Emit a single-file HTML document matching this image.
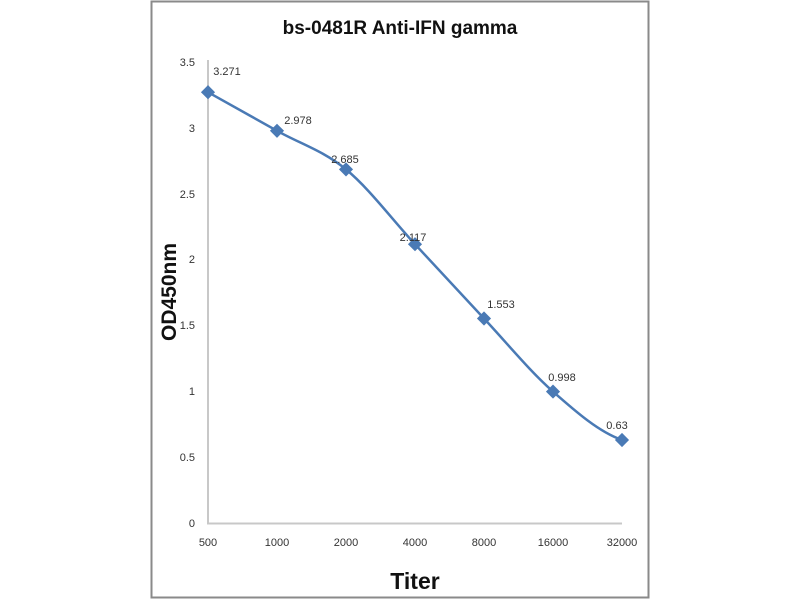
<!DOCTYPE html>
<html><head><meta charset="utf-8"><style>
html,body{margin:0;padding:0;background:#fff;}
svg{display:block;}
</style></head><body>
<svg width="800" height="600" viewBox="0 0 800 600" xmlns="http://www.w3.org/2000/svg" font-family="Liberation Sans, sans-serif">
<rect x="0" y="0" width="800" height="600" fill="#fff"/>
<rect x="151.5" y="1.5" width="497" height="596" fill="none" stroke="#8a8a8a" stroke-width="2"/>
<text x="400" y="34" text-anchor="middle" font-size="19" font-weight="bold" fill="#111">bs-0481R  Anti-IFN gamma</text>
<line x1="208" y1="60" x2="208" y2="524" stroke="#c8c8c8" stroke-width="2"/>
<line x1="207" y1="523.5" x2="622" y2="523.5" stroke="#c8c8c8" stroke-width="2"/>
<g font-size="11" fill="#333" text-anchor="end">
<text x="195" y="66">3.5</text>
<text x="195" y="132">3</text>
<text x="195" y="198">2.5</text>
<text x="195" y="263">2</text>
<text x="195" y="329">1.5</text>
<text x="195" y="395">1</text>
<text x="195" y="461">0.5</text>
<text x="195" y="527">0</text>
</g>
<g font-size="11" fill="#333" text-anchor="middle">
<text x="208" y="546">500</text>
<text x="277" y="546">1000</text>
<text x="346" y="546">2000</text>
<text x="415" y="546">4000</text>
<text x="484" y="546">8000</text>
<text x="553" y="546">16000</text>
<text x="622" y="546">32000</text>
</g>
<text x="415" y="589" text-anchor="middle" font-size="23" font-weight="bold" fill="#111">Titer</text>
<text transform="translate(176,292) rotate(-90)" text-anchor="middle" font-size="21" font-weight="bold" fill="#111">OD450nm</text>
<path d="M208,92.2 C219.5,98.6 254,117.9 277,130.8 C300,143.7 323,150.5 346,169.4 C369,188.3 392,219.3 415,244.2 C438,269.1 461,293.9 484,318.5 C507,343.1 530,371.3 553,391.6 C576,411.9 599,432 622,440" fill="none" stroke="#4a7ab5" stroke-width="2.5"/>
<g fill="#4a7ab5">
<rect x="203" y="87.2" width="10" height="10" transform="rotate(45 208 92.2)"/>
<rect x="272" y="125.8" width="10" height="10" transform="rotate(45 277 130.8)"/>
<rect x="341" y="164.4" width="10" height="10" transform="rotate(45 346 169.4)"/>
<rect x="410" y="239.2" width="10" height="10" transform="rotate(45 415 244.2)"/>
<rect x="479" y="313.5" width="10" height="10" transform="rotate(45 484 318.5)"/>
<rect x="548" y="386.6" width="10" height="10" transform="rotate(45 553 391.6)"/>
<rect x="617" y="435" width="10" height="10" transform="rotate(45 622 440)"/>
</g>
<g font-size="11" fill="#333" text-anchor="middle">
<text x="227" y="75">3.271</text>
<text x="298" y="124">2.978</text>
<text x="345" y="163">2.685</text>
<text x="413" y="241">2.117</text>
<text x="501" y="308">1.553</text>
<text x="562" y="381">0.998</text>
<text x="617" y="429">0.63</text>
</g>
</svg>
</body></html>
